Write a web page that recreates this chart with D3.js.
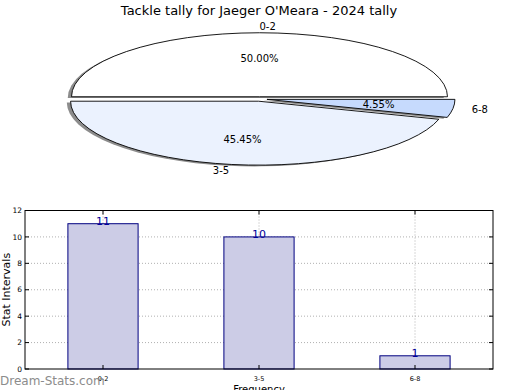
<!DOCTYPE html>
<html>
<head>
<meta charset="utf-8">
<script src="https://cdn.jsdelivr.net/npm/d3@7"></script>
<style>
  body { margin: 0; background: #fff; }
  text { font-family: "DejaVu Sans", sans-serif; }
</style>
</head>
<body>
<div id="chart"></div>
<script>
// Data
let title = "Tackle tally for Jaeger O'Meara - 2024 tally";
let categories = ["0-2", "3-5", "6-8"];
let counts = [11, 10, 1];
let sliceColors = ["#ffffff", "#ebf2fe", "#c6dafd"];
let explode = [0.035, 0.035, 0.04];
let yTicks = [0, 2, 4, 6, 8, 10, 12];

let width = 520;
let height = 390;

let svg = d3.select("#chart")
  .append("svg")
  .attr("width", width)
  .attr("height", height);

// Title
svg.append("text")
  .attr("x", 259)
  .attr("y", 15)
  .attr("text-anchor", "middle")
  .style("font-size", "13px")
  .text(title);

// ---- Pie (squashed ellipse, matplotlib style) ----
let cx = 259.5, cy = 99, rx = 188, ry = 64;
let total = d3.sum(counts);

// matplotlib starts at east and goes counterclockwise
let pie = d3.pie().sort(null).startAngle(Math.PI / 2).endAngle(Math.PI / 2 - 2 * Math.PI);
let arcs = pie(counts);
let unitArc = d3.arc().innerRadius(0).outerRadius(1);

let pieG = svg.append("g").attr("class", "pie");

arcs.forEach(function(a, i) {
  let mid = Math.PI / 2 - (a.startAngle + a.endAngle) / 2; // math angle
  let dx = explode[i] * rx * Math.cos(mid);
  let dy = -explode[i] * ry * Math.sin(mid);
  let px = cx + dx, py = cy + dy;

  // shadow
  pieG.append("path")
    .attr("d", unitArc(a))
    .attr("transform", "translate(" + (px - 0.02 * rx) + "," + (py + 0.02 * ry) + ") scale(" + rx + "," + ry + ")")
    .attr("fill", "#000")
    .attr("fill-opacity", 0.45)
    .attr("stroke", "none");

  pieG.append("path")
    .attr("d", unitArc(a))
    .attr("transform", "translate(" + px + "," + py + ") scale(" + rx + "," + ry + ")")
    .attr("fill", sliceColors[i])
    .attr("stroke", "#000")
    .attr("stroke-width", 0.9)
    .attr("vector-effect", "non-scaling-stroke");

  a.mid = mid; a.px = px; a.py = py;
});

arcs.forEach(function(a, i) {
  // category label at 1.1 radius
  let lx = a.px + 1.1 * rx * Math.cos(a.mid);
  let ly = a.py - 1.1 * ry * Math.sin(a.mid);
  pieG.append("text")
    .attr("x", lx)
    .attr("y", ly)
    .attr("dy", "0.35em")
    .attr("text-anchor", Math.cos(a.mid) > -1e-9 ? "start" : "end")
    .style("font-size", "10px")
    .text(categories[i]);

  // percentage at 0.6 radius
  let tx = a.px + 0.6 * rx * Math.cos(a.mid);
  let ty = a.py - 0.6 * ry * Math.sin(a.mid);
  pieG.append("text")
    .attr("x", tx)
    .attr("y", ty)
    .attr("dy", "0.35em")
    .attr("text-anchor", "middle")
    .style("font-size", "10px")
    .text((counts[i] / total * 100).toFixed(2) + "%");
});

// ---- Bar chart ----
let axLeft = 25, axRight = 493, axTop = 210.5, axBottom = 369;

let x = d3.scaleBand()
  .domain(categories)
  .range([axLeft, axRight])
  .paddingInner(0)
  .paddingOuter(0);

let y = d3.scaleLinear()
  .domain([0, 12])
  .range([axBottom, axTop]);

let barW = x.bandwidth() * 0.45;

let barG = svg.append("g").attr("class", "bars");

// grid
barG.selectAll("line.hgrid")
  .data(yTicks.slice(1, -1))
  .enter()
  .append("line")
  .attr("x1", axLeft).attr("x2", axRight)
  .attr("y1", d => y(d)).attr("y2", d => y(d))
  .attr("stroke", "#b0b0b0")
  .attr("stroke-width", 1)
  .attr("stroke-dasharray", "1,2");

barG.selectAll("line.vgrid")
  .data(categories)
  .enter()
  .append("line")
  .attr("x1", d => x(d) + x.bandwidth() / 2).attr("x2", d => x(d) + x.bandwidth() / 2)
  .attr("y1", axTop).attr("y2", axBottom)
  .attr("stroke", "#b0b0b0")
  .attr("stroke-width", 1)
  .attr("stroke-dasharray", "1,2");

// bars
barG.selectAll("rect.bar")
  .data(counts)
  .enter()
  .append("rect")
  .attr("x", (d, i) => x(categories[i]) + x.bandwidth() / 2 - barW / 2)
  .attr("y", d => y(d))
  .attr("width", barW)
  .attr("height", d => axBottom - y(d))
  .attr("fill", "#ccccE6")
  .attr("stroke", "#000080")
  .attr("stroke-width", 1);

// value labels
barG.selectAll("text.val")
  .data(counts)
  .enter()
  .append("text")
  .attr("x", (d, i) => x(categories[i]) + x.bandwidth() / 2)
  .attr("y", d => y(d) + 1)
  .attr("text-anchor", "middle")
  .attr("fill", "#00009a")
  .style("font-size", "11px")
  .text(d => d);

// frame
barG.append("rect")
  .attr("x", axLeft).attr("y", axTop)
  .attr("width", axRight - axLeft).attr("height", axBottom - axTop)
  .attr("fill", "none")
  .attr("stroke", "#000")
  .attr("stroke-width", 1);

// y ticks (inward, both sides)
yTicks.forEach(function(t) {
  barG.append("line")
    .attr("x1", axLeft).attr("x2", axLeft + 4)
    .attr("y1", y(t)).attr("y2", y(t))
    .attr("stroke", "#000");
  barG.append("line")
    .attr("x1", axRight - 4).attr("x2", axRight)
    .attr("y1", y(t)).attr("y2", y(t))
    .attr("stroke", "#000");
  barG.append("text")
    .attr("x", axLeft - 3)
    .attr("y", y(t))
    .attr("dy", "0.35em")
    .attr("text-anchor", "end")
    .style("font-size", "7.5px")
    .text(t);
});

// x ticks
categories.forEach(function(c) {
  let cxp = x(c) + x.bandwidth() / 2;
  barG.append("line")
    .attr("x1", cxp).attr("x2", cxp)
    .attr("y1", axBottom).attr("y2", axBottom - 4)
    .attr("stroke", "#000");
  barG.append("line")
    .attr("x1", cxp).attr("x2", cxp)
    .attr("y1", axTop).attr("y2", axTop + 4)
    .attr("stroke", "#000");
  barG.append("text")
    .attr("x", cxp)
    .attr("y", axBottom + 12)
    .attr("text-anchor", "middle")
    .style("font-size", "6.5px")
    .text(c);
});

// axis labels
svg.append("text")
  .attr("x", (axLeft + axRight) / 2)
  .attr("y", 393)
  .attr("text-anchor", "middle")
  .style("font-size", "10px")
  .text("Frequency");

svg.append("text")
  .attr("transform", "translate(9.5," + ((axTop + axBottom) / 2) + ") rotate(-90)")
  .attr("text-anchor", "middle")
  .style("font-size", "11px")
  .text("Stat Intervals");

// watermark
svg.append("text")
  .attr("x", 0)
  .attr("y", 385)
  .attr("fill", "#8c8c8c")
  .style("font-size", "12px")
  .text("Dream-Stats.com");
</script>
</body>
</html>
